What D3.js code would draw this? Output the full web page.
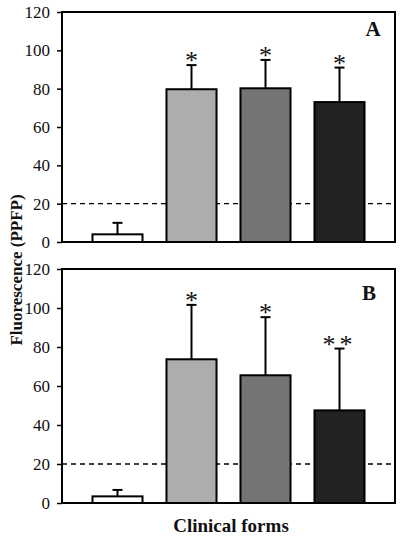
<!DOCTYPE html>
<html><head><meta charset="utf-8">
<script src="https://cdn.jsdelivr.net/npm/d3@7"></script>
<style>body{margin:0;background:#fff}svg{display:block}</style>
</head><body>
<svg id="c" width="400" height="538"></svg>
<script>
const categories = ["Control", "Form 1", "Form 2", "Form 3"];
const colors = ["#ffffff", "#adadad", "#747474", "#222222"];
const meansA = [4, 79.7, 80.2, 73];
const errA = [10, 92.3, 95, 91];
const starsA = ["", "*", "*", "*"];
const meansB = [3.4, 73.7, 65.5, 47.5];
const errB = [6.7, 101.6, 95.3, 79.2];
const starsB = ["", "*", "*", "**"];
const yTicks = [0, 20, 40, 60, 80, 100, 120];
const threshold = 20;
const panelLabels = ["A", "B"];

const svg = d3.select("#c");
const serif = "'Liberation Serif','Times New Roman',serif";
const x = d3.scaleBand().domain(categories).range([62, 395]).paddingInner(0.324).paddingOuter(0.412);

const panels = [
  {top: 12, bottom: 242, means: meansA, err: errA, stars: starsA, label: panelLabels[0], lx: 373, ly: 36},
  {top: 269, bottom: 503, means: meansB, err: errB, stars: starsB, label: panelLabels[1], lx: 369, ly: 300}
];

panels.forEach(p => {
  const y = d3.scaleLinear().domain([0, 120]).range([p.bottom, p.top]);
  const g = svg.append("g");
  const ax = g.append("g").attr("transform", "translate(62,0)")
    .call(d3.axisLeft(y).tickValues(yTicks).tickSize(5).tickPadding(7));
  ax.select(".domain").remove();
  ax.selectAll("line").attr("stroke", "#000").attr("stroke-width", 1.5);
  ax.selectAll("text").attr("font-family", serif).attr("font-size", 17).attr("fill", "#111");
  g.append("line").attr("x1", 62).attr("x2", 395).attr("y1", y(threshold)).attr("y2", y(threshold))
    .attr("stroke", "#000").attr("stroke-width", 1.3).attr("stroke-dasharray", "5,4");
  categories.forEach((c, i) => {
    const cx = x(c) + x.bandwidth() / 2;
    g.append("line").attr("x1", cx).attr("x2", cx).attr("y1", y(p.means[i])).attr("y2", y(p.err[i]))
      .attr("stroke", "#000").attr("stroke-width", 2);
    g.append("line").attr("x1", cx - 5).attr("x2", cx + 5).attr("y1", y(p.err[i])).attr("y2", y(p.err[i]))
      .attr("stroke", "#000").attr("stroke-width", 2);
    if (p.stars[i]) {
      g.append("text").attr("x", cx).attr("y", y(p.err[i]) + 4).attr("text-anchor", "middle")
        .attr("font-family", serif).attr("font-size", 26).attr("letter-spacing", p.stars[i].length > 1 ? 4 : 0)
        .attr("fill", "#111").text(p.stars[i]);
    }
  });
  g.selectAll("rect.bar").data(categories).join("rect").attr("class", "bar")
    .attr("x", c => x(c)).attr("width", x.bandwidth())
    .attr("y", (c, i) => y(p.means[i])).attr("height", (c, i) => p.bottom - y(p.means[i]))
    .attr("fill", (c, i) => colors[i]).attr("stroke", "#000").attr("stroke-width", 2);
  g.append("rect").attr("x", 62).attr("y", p.top).attr("width", 333).attr("height", p.bottom - p.top)
    .attr("fill", "none").attr("stroke", "#000").attr("stroke-width", 2);
  g.append("text").attr("x", p.lx).attr("y", p.ly).attr("text-anchor", "middle")
    .attr("font-family", serif).attr("font-weight", "bold").attr("font-size", 21).attr("fill", "#111").text(p.label);
});

svg.append("text").attr("transform", "translate(22,270) rotate(-90)").attr("text-anchor", "middle")
  .attr("font-family", serif).attr("font-weight", "bold").attr("font-size", 17).attr("fill", "#111")
  .text("Fluorescence (PPFP)");
svg.append("text").attr("x", 231).attr("y", 532).attr("text-anchor", "middle")
  .attr("font-family", serif).attr("font-weight", "bold").attr("font-size", 19).attr("fill", "#111")
  .text("Clinical forms");
</script>
</body></html>
